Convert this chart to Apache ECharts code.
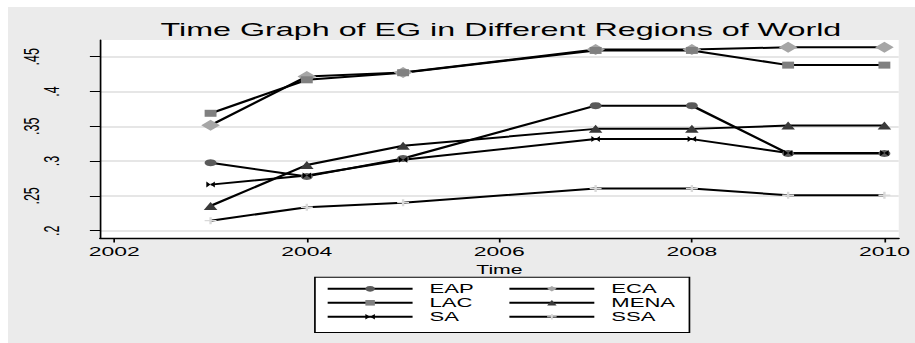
<!DOCTYPE html>
<html>
<head>
<meta charset="utf-8">
<script src="https://cdn.jsdelivr.net/npm/echarts@6/dist/echarts.min.js"></script>
<style>
  html, body { margin: 0; padding: 0; background: #ffffff; width: 915px; height: 343px; overflow: hidden; }
  #wrap { position: absolute; left: 8px; top: 7px; width: 534px; height: 336px; background: #ebebeb;
          transform: scaleX(1.6985); transform-origin: 0 0; }
  #chart { width: 534px; height: 336px; }
</style>
</head>
<body>
<div id="wrap"><div id="chart"></div></div>
<script>
// ---- data ----
const years = [2003, 2004, 2005, 2007, 2008, 2009, 2010];
const seriesNames = ['EAP', 'ECA', 'LAC', 'MENA', 'SA', 'SSA'];
const EAP  = [0.2975, 0.278, 0.3037, 0.3797, 0.3797, 0.311, 0.311];
const ECA  = [0.3514, 0.4216, 0.4273, 0.4603, 0.4603, 0.4635, 0.4635];
const LAC  = [0.3687, 0.4168, 0.4270, 0.4590, 0.4590, 0.4379, 0.4379];
const MENA = [0.2356, 0.2943, 0.3220, 0.3463, 0.3463, 0.3510, 0.3510];
const SA   = [0.2662, 0.2793, 0.3020, 0.3316, 0.3316, 0.3115, 0.3115];
const SSA  = [0.2144, 0.2337, 0.2403, 0.2605, 0.2605, 0.2509, 0.2509];
const xTicks = [2002, 2004, 2006, 2008, 2010];
const yTicks = [0.2, 0.25, 0.3, 0.35, 0.4, 0.45];
const yTickLabels = ['.2', '.25', '.3', '.35', '.4', '.45'];
const titleText = 'Time Graph of EG in Different Regions of World';
const xAxisTitle = 'Time';

const values = { EAP, ECA, LAC, MENA, SA, SSA };
const markerColors = { EAP: '#5a5a5a', ECA: '#a6a6a6', LAC: '#808080', MENA: '#3a3a3a', SA: '#000000', SSA: '#d9d9d9' };
const markerShapes = {
  EAP: 'circle', ECA: 'diamond', LAC: 'rect', MENA: 'triangle',
  SA: 'path://M0,0L5,5L0,10Z M10,0L5,5L10,10Z',
  SSA: 'path://M4,0H6V4H10V6H6V10H4V6H0V4H4Z'
};
const markerSizes = { EAP: 7, ECA: 11, LAC: 7, MENA: 8, SA: [5, 6], SSA: 7 };

const FONT = "'Liberation Sans', Arial, sans-serif";

const chart = echarts.init(document.getElementById('chart'), null, { renderer: 'svg' });

const series = seriesNames.map(name => ({
  name,
  type: 'line',
  data: years.map((y, i) => [y, values[name][i]]),
  symbol: markerShapes[name],
  symbolSize: markerSizes[name],
  showAllSymbol: true,
  lineStyle: { color: '#000000', width: 2 },
  itemStyle: { color: markerColors[name], borderWidth: 0 },
  emphasis: { disabled: true },
  animation: false
}));

chart.setOption({
  animation: false,
  backgroundColor: '#ebebeb',
  title: {
    text: titleText,
    left: 290.2, top: 13, padding: 0,
    textAlign: 'center',
    textStyle: { fontFamily: FONT, fontSize: 19, fontWeight: 'normal', color: '#000' }
  },
  grid: {
    left: 54.2, right: 7.8, top: 33, bottom: 105,
    show: true, backgroundColor: '#ffffff', borderWidth: 0
  },
  xAxis: {
    type: 'value',
    min: 2001.852, max: 2010.149,
    name: xAxisTitle, nameLocation: 'middle', nameGap: 15,
    nameTextStyle: { fontFamily: FONT, fontSize: 12.5, color: '#000' },
    axisLine: { show: true, onZero: false, lineStyle: { color: '#000', width: 1.3 } },
    axisTick: { show: true, length: 4.5, customValues: xTicks, lineStyle: { color: '#000', width: 1 } },
    axisLabel: { customValues: xTicks, margin: 6, fontFamily: FONT, fontSize: 13.5, color: '#000',
                 formatter: v => String(v) },
    splitLine: { show: false }
  },
  yAxis: {
    type: 'value',
    min: 0.1895, max: 0.474,
    axisLine: { show: true, onZero: false, lineStyle: { color: '#000', width: 1 } },
    axisTick: { show: true, length: 6, customValues: yTicks, lineStyle: { color: '#000', width: 1 } },
    axisLabel: {
      customValues: yTicks, rotate: 90, margin: 22,
      fontFamily: FONT, fontSize: 12.5, color: '#000',
      formatter: v => {
        const i = yTicks.findIndex(t => Math.abs(t - v) < 1e-6);
        const s = i >= 0 ? yTickLabels[i] : String(v);
        return (i % 2 === 1) ? '{a|' + s + '}' : '{b|' + s + '}';
      },
      rich: {
        a: { fontFamily: FONT, fontSize: 12.5, color: '#000', padding: [0, 0, 12, 0] },
        b: { fontFamily: FONT, fontSize: 12.5, color: '#000' }
      }
    },
    splitLine: { show: true, lineStyle: { color: '#e6e6e6', width: 2 } }
  },
  legend: {
    data: seriesNames,
    orient: 'horizontal',
    left: 180.7, top: 270.3,
    width: 214,
    padding: [4.5, 0, 8.7, 6.5],
    itemGap: 0,
    itemWidth: 50, itemHeight: 7,
    backgroundColor: '#ffffff',
    borderColor: '#000000', borderWidth: 1, borderRadius: 0,
    selectedMode: false,
    textStyle: { fontFamily: FONT, fontSize: 13, color: '#000', width: 46, lineHeight: 14, padding: [0, 0, 0, 5] }
  },
  series
});
</script>
</body>
</html>
